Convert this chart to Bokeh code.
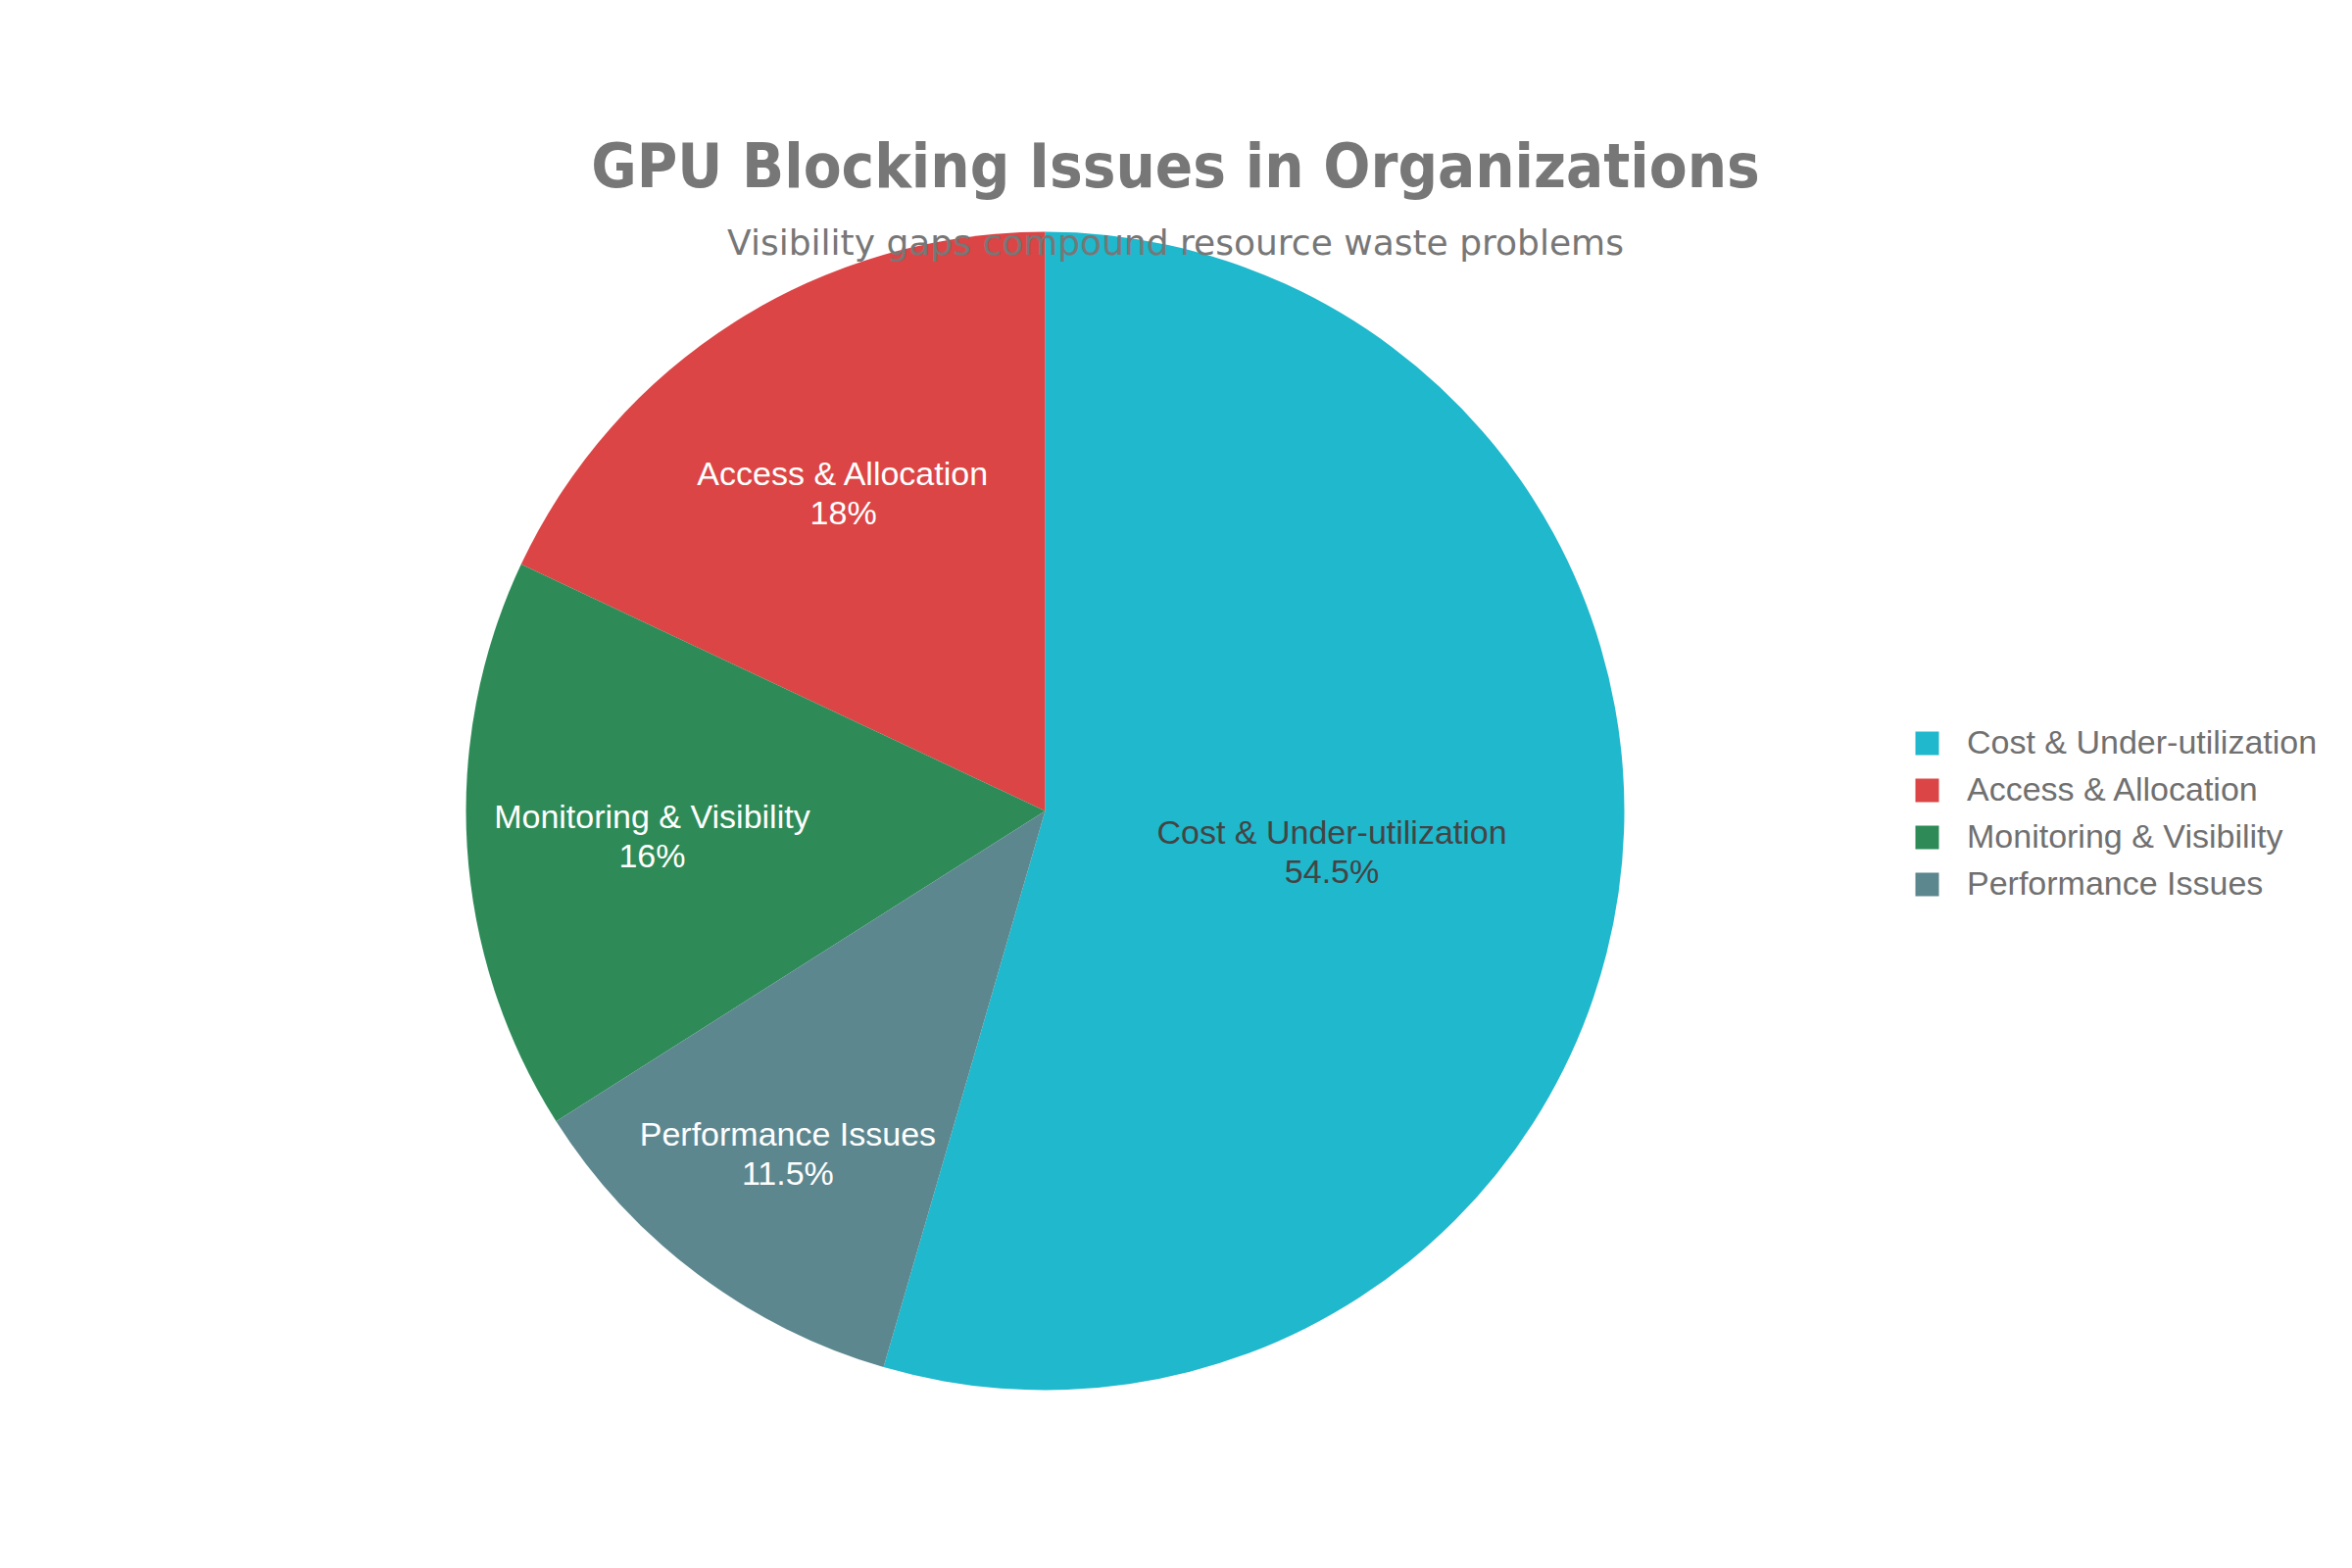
import numpy as np
from bokeh.core.properties import value
from bokeh.embed import file_html
from bokeh.models import ColumnDataSource, Label, Legend, LegendItem, Range1d
from bokeh.plotting import figure
from bokeh.resources import INLINE

categories = [
    "Cost & Under-utilization",
    "Access & Allocation",
    "Monitoring & Visibility",
    "Performance Issues",
]
shares = [54.5, 18.0, 16.0, 11.5]
colors = ["#1FB8CD", "#DB4545", "#2E8B57", "#5D878F"]

# slices run clockwise from 12 o'clock in this order
clock_order = [0, 3, 2, 1]
label_colors = ["#444444", "#ffffff", "#ffffff", "#ffffff"]
label_radius = [0.50, 0.65, 0.68, 0.74]  # inside-label distance, fraction of radius

W, H = 2384, 1584
CX, CY = 1066, 757   # pie centre in canvas pixels (from bottom-left)
R = 591              # pie radius in pixels

total = sum(shares)
start = np.zeros(len(shares))
end = np.zeros(len(shares))
cum = 0.0
for i in clock_order:
    start[i] = np.pi / 2 - 2 * np.pi * cum / total
    cum += shares[i]
    end[i] = np.pi / 2 - 2 * np.pi * cum / total
mid = (start + end) / 2

source = ColumnDataSource(data=dict(
    name=categories,
    share=shares,
    start=start,
    end=end,
    color=colors,
    lx=np.array(label_radius) * np.cos(mid),
    ly=np.array(label_radius) * np.sin(mid),
    label=[f"{c}\n{s:g}%" for c, s in zip(categories, shares)],
    label_color=label_colors,
))

p = figure(
    width=W,
    height=H,
    x_range=Range1d(-CX / R, (W - CX) / R),
    y_range=Range1d(-CY / R, (H - CY) / R),
    output_backend="svg",
    toolbar_location=None,
    min_border=0,
)
p.axis.visible = False
p.grid.visible = False
p.outline_line_color = None
p.background_fill_color = "white"

pie = p.wedge(
    x=0, y=0, radius=1,
    start_angle="start", end_angle="end", direction="clock",
    fill_color="color", line_color=None, source=source,
)

p.text(
    x="lx", y="ly", text="label", source=source,
    text_align="center", text_baseline="middle",
    text_font=value("Liberation Sans"), text_font_size="34px",
    text_color="label_color", text_line_height=1.05,
)

legend = Legend(
    items=[LegendItem(label=c, renderers=[pie], index=i) for i, c in enumerate(categories)],
    location=(1951, 663),
    orientation="vertical",
    glyph_width=30,
    glyph_height=30,
    label_height=30,
    spacing=9,
    label_standoff=26,
    padding=0,
    margin=0,
    border_line_color=None,
    background_fill_alpha=0,
    label_text_font="Liberation Sans",
    label_text_font_size="34px",
    label_text_color="#707070",
)
p.add_layout(legend)

p.add_layout(Label(
    x=1199, y=1415, x_units="screen", y_units="screen",
    text="GPU Blocking Issues in Organizations",
    text_align="center", text_baseline="alphabetic",
    text_font="DejaVu Sans Condensed", text_font_style="bold",
    text_font_size="63px", text_color="#777777",
))
p.add_layout(Label(
    x=1199, y=1337, x_units="screen", y_units="screen",
    text="Visibility gaps compound resource waste problems",
    text_align="center", text_baseline="alphabetic",
    text_font="DejaVu Sans", text_font_size="36px", text_color="#777777",
))

open("out.html", "w").write(file_html(p, INLINE))
